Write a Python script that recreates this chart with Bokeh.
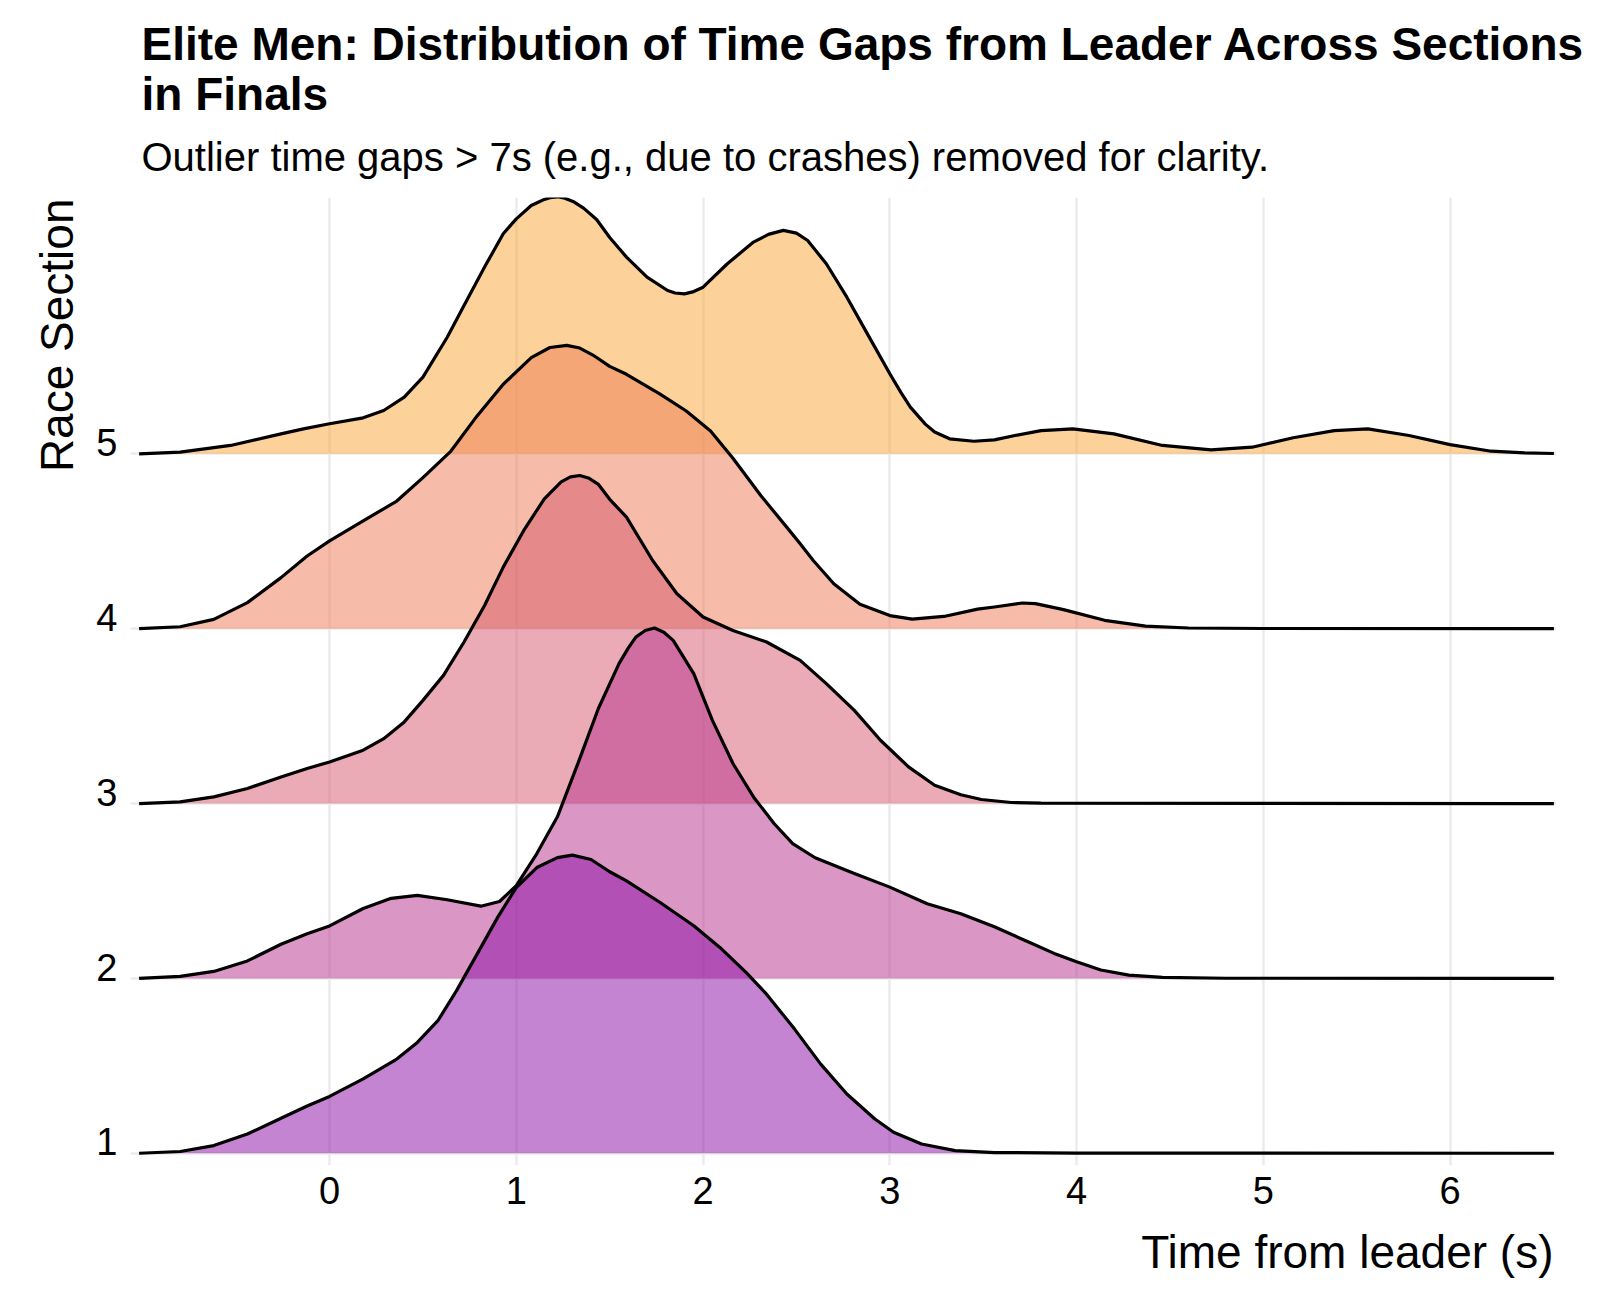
from bokeh.plotting import figure
from bokeh.models import Range1d, FixedTicker, Title, CustomJSTickFormatter
from bokeh.embed import file_html
from bokeh.resources import INLINE

# ---------------- data ----------------
title_line1 = "Elite Men: Distribution of Time Gaps from Leader Across Sections"
title_line2 = "in Finals"
subtitle = "Outlier time gaps > 7s (e.g., due to crashes) removed for clarity."
x_label = "Time from leader (s)"
y_label = "Race Section"

sections = [1, 2, 3, 4, 5]
x_ticks = [0, 1, 2, 3, 4, 5, 6]

# ridge heights (scaled density, in section units) at time gaps (s)
s1_x = [-1.02, -0.8, -0.62, -0.44, -0.26, -0.12, 0.0, 0.18, 0.36, 0.47, 0.58, 0.68, 0.79, 0.9, 1.0,
        1.11, 1.22, 1.3, 1.4, 1.5, 1.59, 1.77, 1.95, 2.09, 2.23, 2.34, 2.49, 2.63, 2.77, 2.92,
        3.02, 3.17, 3.35, 3.56, 4.0, 6.556]
s1_h = [0.0, 0.01, 0.044, 0.11, 0.2, 0.27, 0.325, 0.425, 0.539, 0.634, 0.758, 0.93, 1.139, 1.349, 1.52,
        1.634, 1.691, 1.705, 1.68, 1.61, 1.558, 1.434, 1.301, 1.177, 1.034, 0.91, 0.71, 0.51, 0.339, 0.196,
        0.12, 0.053, 0.015, 0.004, 0.001, 0.0]

s2_x = [-1.02, -0.8, -0.62, -0.44, -0.26, -0.12, 0.0, 0.18, 0.33, 0.47, 0.63, 0.81, 0.91, 1.0, 1.11,
        1.22, 1.33, 1.44, 1.55, 1.6, 1.64, 1.69, 1.74, 1.79, 1.84, 1.95, 2.05, 2.16, 2.27, 2.38,
        2.48, 2.6, 2.81, 3.0, 3.2, 3.38, 3.56, 3.74, 3.88, 4.0, 4.13, 4.28, 4.46, 4.8, 6.556]
s2_h = [0.0, 0.012, 0.04, 0.1, 0.195, 0.255, 0.3, 0.4, 0.458, 0.475, 0.45, 0.413, 0.44, 0.53, 0.714,
        0.924, 1.23, 1.545, 1.8, 1.89, 1.952, 1.99, 2.004, 1.98, 1.933, 1.743, 1.476, 1.229, 1.038, 0.886,
        0.771, 0.69, 0.6, 0.522, 0.427, 0.37, 0.295, 0.21, 0.143, 0.095, 0.048, 0.019, 0.006, 0.001, 0.0]

s3_x = [-1.02, -0.8, -0.62, -0.44, -0.26, -0.12, 0.0, 0.18, 0.29, 0.4, 0.5, 0.61, 0.72, 0.83, 0.93,
        1.04, 1.15, 1.24, 1.29, 1.34, 1.39, 1.44, 1.5, 1.59, 1.73, 1.86, 2.0, 2.16, 2.34, 2.52,
        2.66, 2.81, 2.95, 3.1, 3.24, 3.38, 3.49, 3.65, 3.81, 6.556]
s3_h = [0.0, 0.01, 0.038, 0.086, 0.152, 0.2, 0.238, 0.305, 0.371, 0.467, 0.59, 0.733, 0.924, 1.133, 1.352,
        1.562, 1.743, 1.84, 1.868, 1.876, 1.86, 1.825, 1.74, 1.638, 1.39, 1.2, 1.067, 0.99, 0.924, 0.819,
        0.686, 0.533, 0.362, 0.21, 0.105, 0.05, 0.023, 0.006, 0.002, 0.0]

s4_x = [-1.02, -0.8, -0.62, -0.44, -0.26, -0.12, 0.0, 0.18, 0.36, 0.5, 0.65, 0.79, 0.93, 1.08, 1.18,
        1.27, 1.34, 1.41, 1.5, 1.59, 1.77, 1.91, 2.04, 2.16, 2.31, 2.45, 2.52, 2.59, 2.7, 2.84,
        3.0, 3.12, 3.29, 3.47, 3.56, 3.71, 3.78, 3.93, 4.15, 4.37, 4.6, 5.0, 6.556]
s4_h = [0.0, 0.011, 0.053, 0.149, 0.292, 0.416, 0.502, 0.616, 0.73, 0.864, 1.016, 1.217, 1.398, 1.55, 1.608,
        1.62, 1.605, 1.565, 1.5, 1.455, 1.341, 1.245, 1.131, 0.975, 0.76, 0.578, 0.486, 0.39, 0.257, 0.14,
        0.075, 0.055, 0.07, 0.112, 0.124, 0.147, 0.143, 0.109, 0.048, 0.015, 0.004, 0.001, 0.0]

s5_x = [-1.02, -0.8, -0.53, -0.26, -0.14, 0.0, 0.18, 0.29, 0.4, 0.5, 0.63, 0.72, 0.83, 0.93, 1.0,
        1.08, 1.12, 1.15, 1.18, 1.22, 1.26, 1.31, 1.36, 1.43, 1.5, 1.59, 1.7, 1.81, 1.85, 1.9,
        1.95, 2.0, 2.13, 2.27, 2.35, 2.43, 2.5, 2.56, 2.66, 2.77, 2.88, 3.0, 3.06, 3.11, 3.19,
        3.24, 3.32, 3.45, 3.56, 3.67, 3.81, 3.98, 4.2, 4.46, 4.72, 4.94, 5.16, 5.38, 5.56, 5.78,
        6.0, 6.22, 6.4, 6.556]
s5_h = [0.0, 0.01, 0.048, 0.114, 0.143, 0.172, 0.206, 0.248, 0.324, 0.439, 0.667, 0.849, 1.068, 1.259, 1.344,
        1.42, 1.44, 1.455, 1.465, 1.47, 1.462, 1.44, 1.405, 1.34, 1.237, 1.125, 1.011, 0.934, 0.92, 0.915,
        0.928, 0.953, 1.087, 1.211, 1.255, 1.278, 1.262, 1.22, 1.087, 0.896, 0.686, 0.458, 0.35, 0.267, 0.17,
        0.125, 0.086, 0.072, 0.08, 0.105, 0.133, 0.143, 0.114, 0.048, 0.023, 0.038, 0.092, 0.133, 0.143, 0.105,
        0.053, 0.015, 0.005, 0.002]

fill_colors = ["#8B0AA5", "#B52F8C", "#D6556D", "#ED7953", "#FCA636"]

# ---------------- figure ----------------
curves = {1: (s1_x, s1_h), 2: (s2_x, s2_h), 3: (s3_x, s3_h), 4: (s4_x, s4_h), 5: (s5_x, s5_h)}
FONT = "Liberation Sans"
LABEL_SHIFT = 0.065  # places the tick label just above its baseline (ggridges vjust = 0)

p = figure(width=1600, height=1309,
           x_range=Range1d(-1.066, 6.57), y_range=Range1d(0.93, 6.466),
           output_backend="svg", toolbar_location=None,
           min_border_left=130, min_border_right=44, min_border_top=197, min_border_bottom=144)
p.outline_line_color = None
p.background_fill_color = "white"
p.border_fill_color = "white"

for s in reversed(sections):
    xs, hs = curves[s]
    top = [s + h for h in hs]
    base = [s for _ in xs]
    p.varea(x=xs, y1=base, y2=top, fill_color=fill_colors[s - 1], fill_alpha=0.5)
    p.line(x=xs, y=top, line_color="black", line_width=3.2, line_join="round")

# x axis
p.xaxis.ticker = FixedTicker(ticks=x_ticks)
p.xaxis.axis_line_color = None
p.xaxis.major_tick_line_color = None
p.xaxis.minor_tick_line_color = None
p.xaxis.major_label_text_font = FONT
p.xaxis.major_label_text_font_size = "38px"
p.xaxis.major_label_text_color = "black"
p.xaxis.major_label_standoff = 5

# y axis
p.yaxis.ticker = FixedTicker(ticks=[s + LABEL_SHIFT for s in sections])
p.yaxis.formatter = CustomJSTickFormatter(code="return Math.floor(tick).toString();")
p.yaxis.axis_line_color = None
p.yaxis.major_tick_line_color = None
p.yaxis.minor_tick_line_color = None
p.yaxis.major_label_text_font = FONT
p.yaxis.major_label_text_font_size = "38px"
p.yaxis.major_label_text_color = "black"
p.yaxis.major_label_standoff = 7

# grids
p.xgrid.ticker = FixedTicker(ticks=x_ticks)
p.ygrid.ticker = FixedTicker(ticks=sections)
for g in (p.xgrid, p.ygrid):
    g.grid_line_color = "#EBEBEB"
    g.grid_line_width = 2.5

# titles
p.add_layout(Title(text=subtitle, align="left", offset=11, text_font=FONT, text_font_size="40px",
                   text_font_style="normal", text_color="black", standoff=38), "above")
p.add_layout(Title(text=title_line1 + "\n" + title_line2, align="left", offset=11, text_font=FONT,
                   text_font_size="46px", text_font_style="bold", text_color="black",
                   text_line_height=0.956, standoff=-13), "above")
p.add_layout(Title(text=x_label, align="right", offset=3, text_font=FONT, text_font_size="46px",
                   text_font_style="normal", text_color="black", standoff=35), "below")
p.add_layout(Title(text=y_label, align="right", offset=1, text_font=FONT, text_font_size="46px",
                   text_font_style="normal", text_color="black", standoff=21), "left")

open("out.html", "w").write(file_html(p, INLINE))
